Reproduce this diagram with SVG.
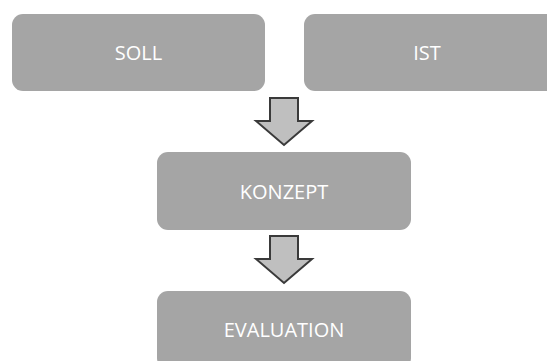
<svg xmlns="http://www.w3.org/2000/svg" width="547" height="361" viewBox="0 0 547 361">
<style>
.box{fill:#a5a5a5}
.lbl{font-family:"Open Sans","Noto Sans",sans-serif;font-size:20px;fill:#ffffff;text-anchor:middle}
.arr{fill:#bfbfbf;stroke:#3a3a3a;stroke-width:2;stroke-linejoin:miter}
</style>
<rect width="547" height="361" fill="#ffffff"/>
<g id="soll"><rect class="box" x="12" y="14" width="253" height="77" rx="11"/><text class="lbl" x="138.5" y="60">SOLL</text></g>
<g id="ist"><rect class="box" x="304" y="14" width="253" height="77" rx="11"/><text class="lbl" x="427" y="60">IST</text></g>
<g id="konzept"><rect class="box" x="157" y="152" width="254" height="78" rx="11"/><text class="lbl" x="284" y="199">KONZEPT</text></g>
<g id="evaluation"><rect class="box" x="157" y="291" width="254" height="78" rx="11"/><text class="lbl" x="284" y="337">EVALUATION</text></g>
<g id="connectors">
<path class="arr" d="M270,98 H298 V121 H312 L284,145 L256,121 H270 Z"/>
<path class="arr" d="M270,236 H298 V259 H312 L284,283 L256,259 H270 Z"/>
</g>
</svg>
